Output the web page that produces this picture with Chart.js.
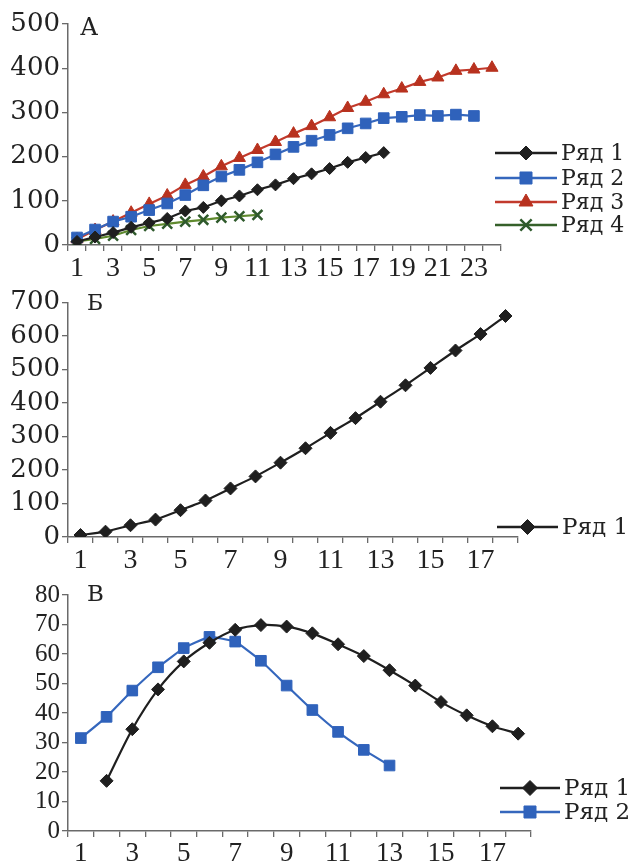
<!DOCTYPE html>
<html><head><meta charset="utf-8">
<script src="https://cdn.jsdelivr.net/npm/chart.js@4.4.1/dist/chart.umd.min.js"></script>
<style>
html,body{margin:0;padding:0;background:#fff;}
body{width:633px;height:862px;overflow:hidden;position:relative;}
canvas{position:absolute;left:0;}
</style></head><body>
<canvas id="cA" width="633" height="285" style="top:0px"></canvas>
<canvas id="cB" width="633" height="290" style="top:285px"></canvas>
<canvas id="cC" width="633" height="287" style="top:575px"></canvas>
<script>
// ---- Data ----
const catsA = ['1','2','3','4','5','6','7','8','9','10','11','12','13','14','15','16','17','18','19','20','21','22','23','24'];
const a_row1 = [8, 18, 28, 40, 50, 60, 77, 85, 100, 111, 125, 136, 150, 161, 173, 187, 198, 209];
const a_row2 = [17, 35, 53, 64, 79, 94, 113, 135, 155, 170, 187, 205, 222, 236, 249, 264, 275, 287, 290, 294, 292, 295, 292];
const a_row3 = [13, 34, 53, 73, 93, 112, 136, 155, 178, 197, 215, 233, 252, 269, 289, 310, 324, 341, 354, 369, 379, 394, 397, 401];
const a_row4 = [8, 14, 21, 34, 43, 48, 53, 57, 62, 65, 68];

const catsB = ['1','2','3','4','5','6','7','8','9','10','11','12','13','14','15','16','17','18'];
const b_row1 = [6, 16, 35, 52, 80, 109, 145, 181, 222, 265, 311, 355, 404, 453, 505, 557, 606, 660];

const catsC = ['1','2','3','4','5','6','7','8','9','10','11','12','13','14','15','16','17','18'];
const c_row1 = [null, 17, 34.5, 48, 57.5, 63.8, 68.2, 69.8, 69.3, 67, 63.3, 59.3, 54.5, 49.3, 43.7, 39.2, 35.5, 33];
const c_row2 = [31.5, 38.7, 47.6, 55.5, 62, 65.8, 64.2, 57.7, 49.3, 41, 33.6, 27.5, 22.2];

const seriesNames = ['Ряд 1','Ряд 2','Ряд 3','Ряд 4'];

// ---- Styles ----
const BLACK='#1f1f1f', BLUE='#3567bd', BLUEM='#2f62bb', RED='#c23a2c', REDM='#b8321f', GREEN='#5f8a2e', GREENM='#2f5a2c';
const AXIS='#6a6a6a';

function drawMarker(ctx, style, x, y, r, fill, stroke){
  ctx.save();
  ctx.fillStyle=fill; ctx.strokeStyle=stroke; ctx.lineWidth=1;
  ctx.beginPath();
  if(style==='rectRot'){
    ctx.moveTo(x,y-r);ctx.lineTo(x+r,y);ctx.lineTo(x,y+r);ctx.lineTo(x-r,y);ctx.closePath();ctx.fill();ctx.stroke();
  } else if(style==='rect'){
    const s=r*Math.SQRT1_2; ctx.rect(x-s,y-s,2*s,2*s);ctx.fill();ctx.stroke();
  } else if(style==='triangle'){
    ctx.moveTo(x,y-r);ctx.lineTo(x+r*0.866,y+r*0.5);ctx.lineTo(x-r*0.866,y+r*0.5);ctx.closePath();ctx.fill();ctx.stroke();
  } else if(style==='crossRot'){
    ctx.lineWidth=2.5;
    const s=r*Math.SQRT1_2;
    ctx.moveTo(x-s,y-s);ctx.lineTo(x+s,y+s);ctx.moveTo(x+s,y-s);ctx.lineTo(x-s,y+s);ctx.stroke();
  }
  ctx.restore();
}

const overlay = {
  id:'overlay',
  afterDraw(chart, args, o){
    const ctx=chart.ctx;
    ctx.save();
    ctx.textBaseline='middle'; ctx.textAlign='left';
    ctx.fillStyle='#222'; ctx.font=o.letterFont;
    ctx.fillText(o.letter, o.letterX, o.letterY);
    chart.data.datasets.forEach((ds,i)=>{
      const y=o.legendY[i];
      ctx.strokeStyle=o.legendLine[i]; ctx.lineWidth=2.5;
      ctx.beginPath();ctx.moveTo(o.x1,y);ctx.lineTo(o.x2,y);ctx.stroke();
      drawMarker(ctx, ds.pointStyle, (o.x1+o.x2)/2, y, ds.pointRadius+1, ds.pointBackgroundColor, ds.pointBorderColor);
      ctx.fillStyle='#222'; ctx.font=o.legendFont;
      ctx.fillText(ds.label, o.textX, y+1);
    });
    ctx.restore();
  }
};

function xAxis(height, font){
  return {
    type:'category', offset:true,
    grid:{offset:true, drawOnChartArea:false, drawTicks:true, tickLength:6, color:AXIS, lineWidth:1.3},
    border:{color:AXIS, width:1.5},
    ticks:{autoSkip:false, maxRotation:0, minRotation:0, padding:1, color:'#222', font:font,
      callback:function(v,i){ return i%2===0 ? this.getLabelForValue(v) : ''; }},
    afterFit(s){ s.height=height; }
  };
}
function yAxis(max, step, font){
  return {
    min:0, max:max,
    grid:{drawOnChartArea:false, drawTicks:true, tickLength:6, color:AXIS, lineWidth:1.3},
    border:{color:AXIS, width:1.5},
    ticks:{stepSize:step, autoSkip:false, padding:2, color:'#222', font:font},
    afterFit(s){ s.width=68; }
  };
}
function ds(label, data, color, mcolor, style, r, tension){
  return {label, data, borderColor:color, borderWidth:2.2, pointStyle:style, pointRadius:r, pointHoverRadius:r,
    pointBackgroundColor:mcolor, pointBorderColor:mcolor, pointBorderWidth: style==='crossRot'?2.5:1, tension:tension||0, fill:false, spanGaps:false};
}
const base = {responsive:false, animation:false, events:[]};

// Chart A
new Chart(document.getElementById('cA'), {
  type:'line',
  data:{labels:catsA, datasets:[
    ds(seriesNames[0], a_row1, BLACK, BLACK, 'rectRot', 6),
    ds(seriesNames[1], a_row2, BLUE, BLUEM, 'rect', 7.5),
    ds(seriesNames[2], a_row3, RED, REDM, 'triangle', 7),
    ds(seriesNames[3], a_row4, GREEN, GREENM, 'crossRot', 7),
  ]},
  options:Object.assign({}, base, {
    layout:{padding:{left:0, right:132, top:24, bottom:0}},
    scales:{ x:xAxis(40,{family:'Liberation Serif', size:28}), y:yAxis(500,100,{family:'DejaVu Serif', size:26}) },
    plugins:{legend:{display:false}, tooltip:{enabled:false},
      overlay:{letter:'А', letterX:80, letterY:29, letterFont:'24px "DejaVu Serif"',
        x1:495, x2:557, textX:561, legendY:[153,178,202,225], legendLine:[BLACK,BLUE,RED,'#35602a'], legendFont:'22px "DejaVu Serif"'}}
  }),
  plugins:[overlay]
});

// Chart B
new Chart(document.getElementById('cB'), {
  type:'line',
  data:{labels:catsB, datasets:[ ds(seriesNames[0], b_row1, BLACK, BLACK, 'rectRot', 6.5, 0.2) ]},
  options:Object.assign({}, base, {
    layout:{padding:{left:0, right:115, top:15, bottom:0}},
    scales:{ x:xAxis(38,{family:'Liberation Serif', size:28}), y:yAxis(700,100,{family:'DejaVu Serif', size:26}) },
    plugins:{legend:{display:false}, tooltip:{enabled:false},
      overlay:{letter:'Б', letterX:87, letterY:19, letterFont:'22px "DejaVu Serif"',
        x1:497, x2:558, textX:562, legendY:[242], legendLine:[BLACK], legendFont:'23px "DejaVu Serif"'}}
  }),
  plugins:[overlay]
});

// Chart C
new Chart(document.getElementById('cC'), {
  type:'line',
  data:{labels:catsC, datasets:[
    ds(seriesNames[0], c_row1, BLACK, BLACK, 'rectRot', 6.5, 0.3),
    ds(seriesNames[1], c_row2, BLUE, BLUEM, 'rect', 7.5, 0.1),
  ]},
  options:Object.assign({}, base, {
    layout:{padding:{left:0, right:102, top:20, bottom:0}},
    scales:{ x:xAxis(31,{family:'Liberation Serif', size:27}), y:yAxis(80,10,{family:'Liberation Serif', size:25}) },
    plugins:{legend:{display:false}, tooltip:{enabled:false},
      overlay:{letter:'В', letterX:87, letterY:20, letterFont:'23px "DejaVu Serif"',
        x1:500, x2:560, textX:564, legendY:[213,237], legendLine:[BLACK,BLUE], legendFont:'23px "DejaVu Serif"'}}
  }),
  plugins:[overlay]
});
</script>
</body></html>
